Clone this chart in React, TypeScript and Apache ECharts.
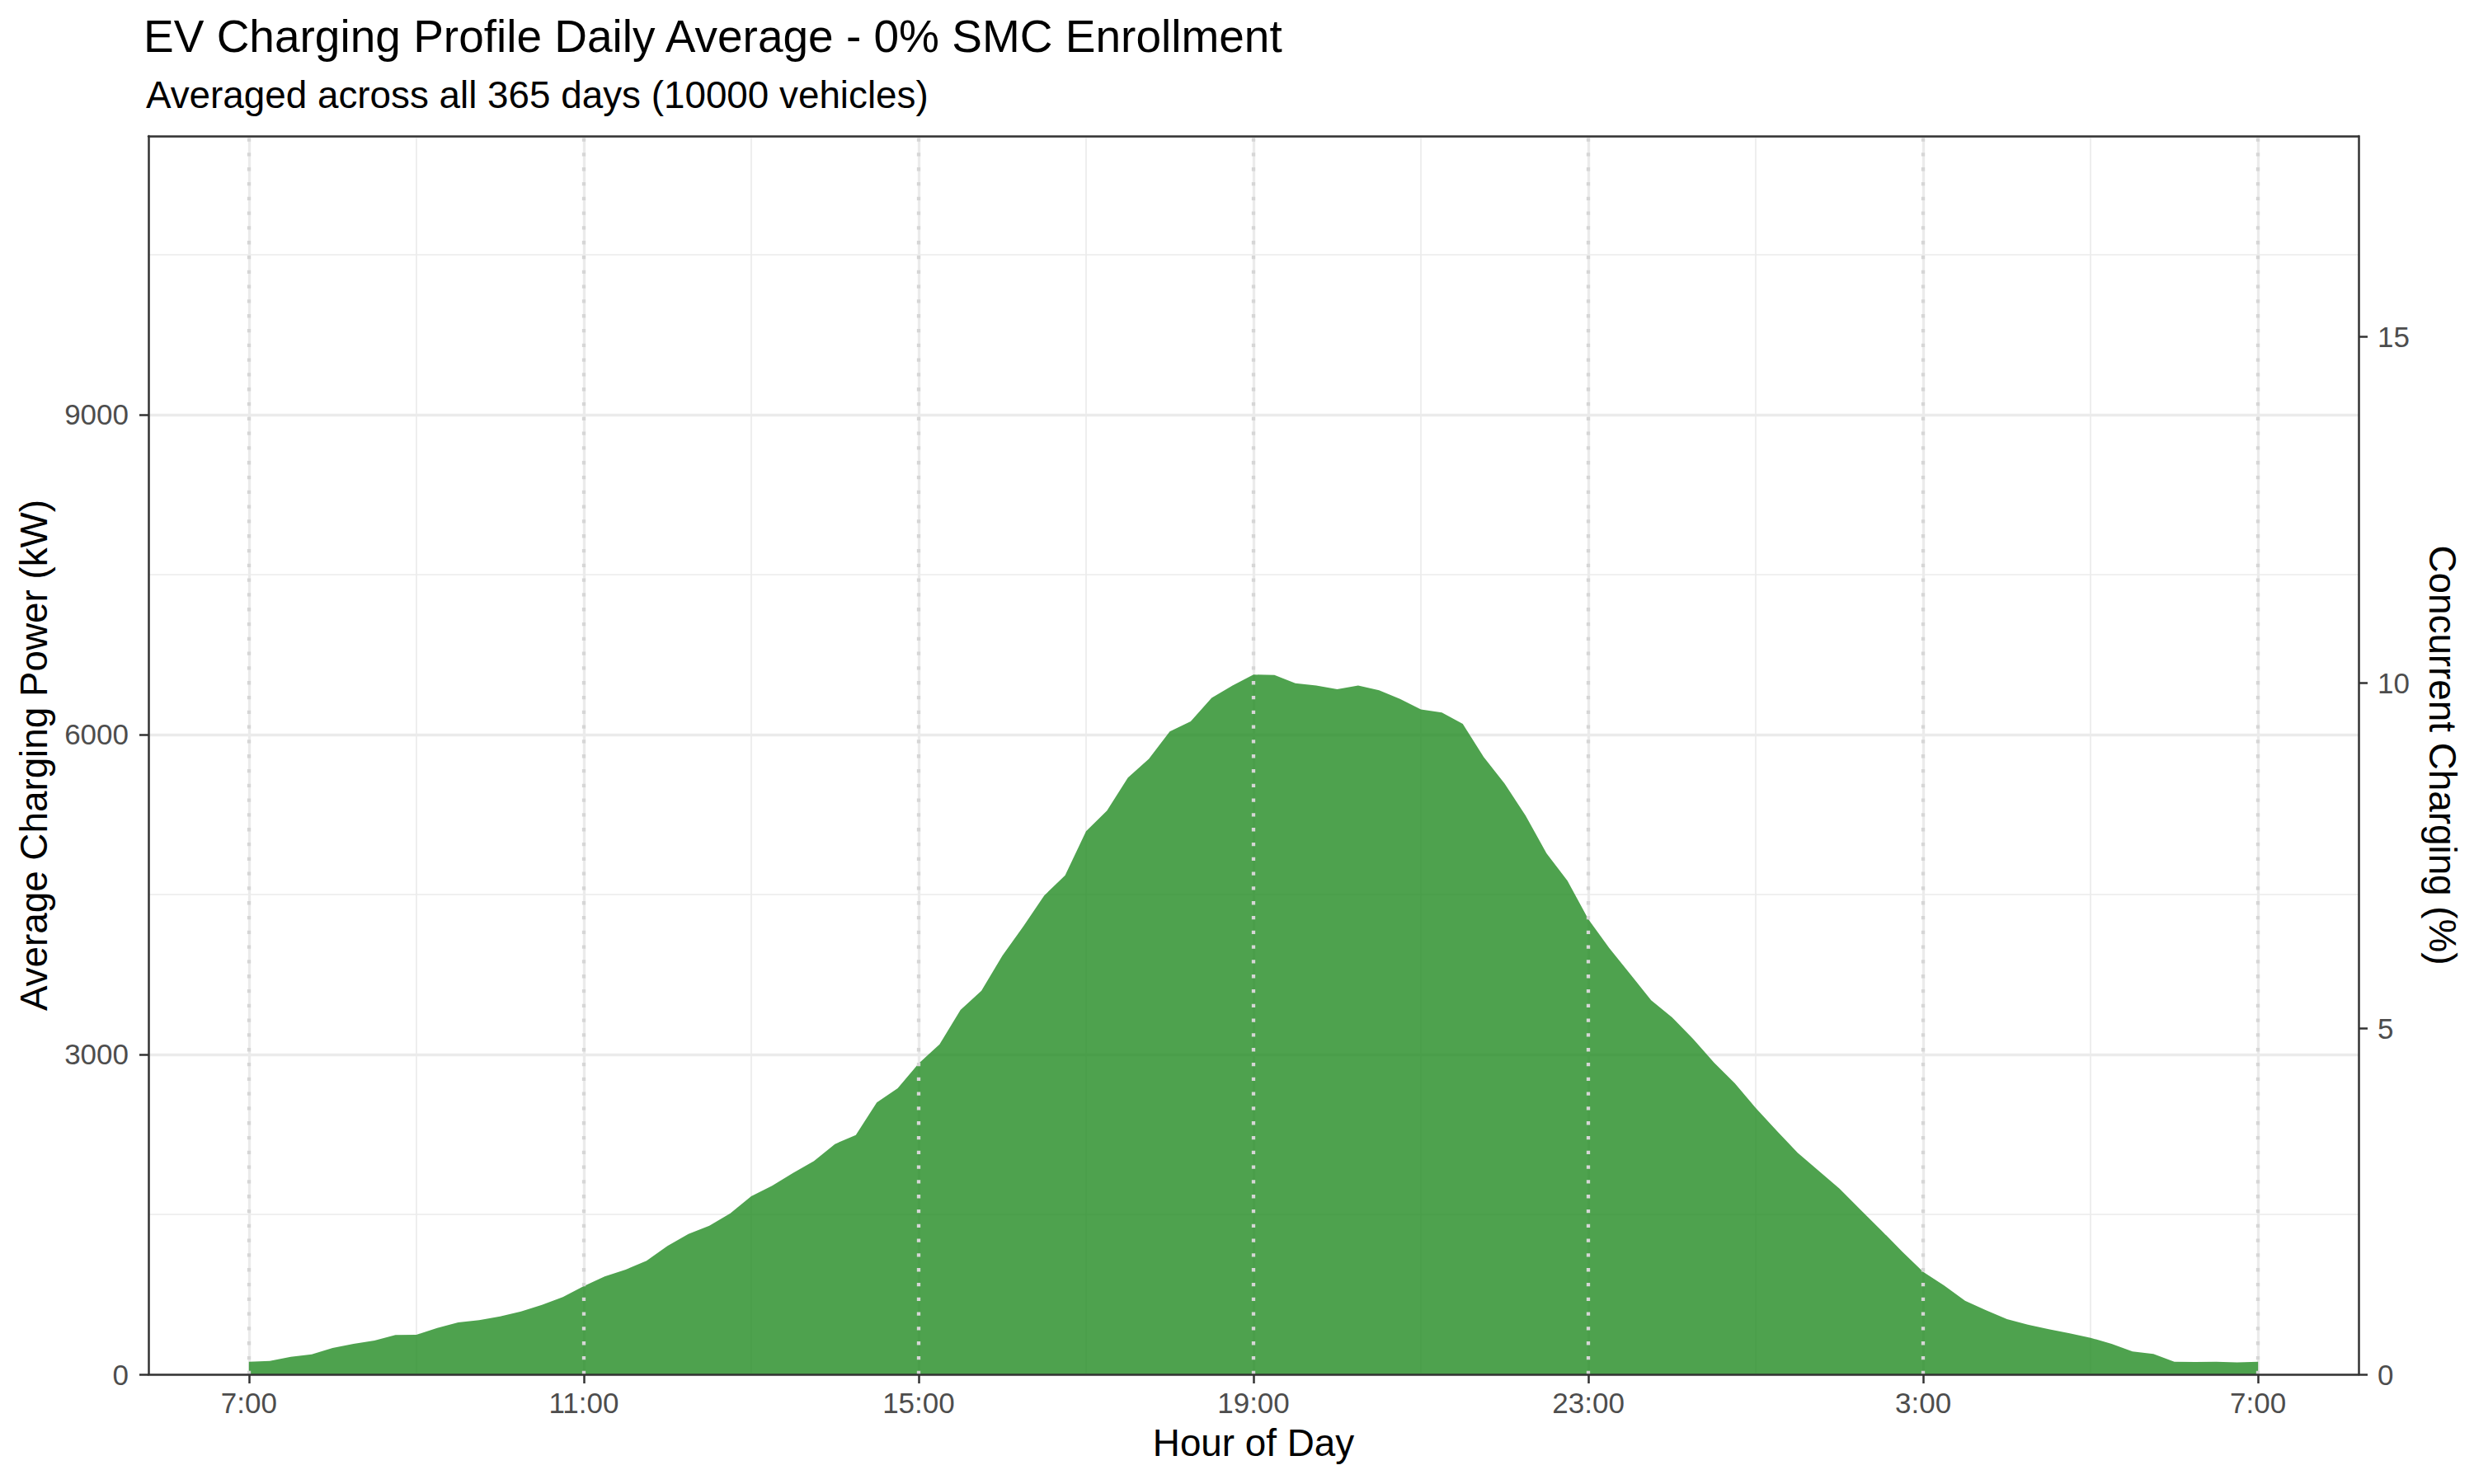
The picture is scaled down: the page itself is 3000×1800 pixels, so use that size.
import React, { useEffect, useRef } from "react";
import * as echarts from "echarts";

// ---- Data ----
const TITLE = "EV Charging Profile Daily Average - 0% SMC Enrollment";
const SUBTITLE = "Averaged across all 365 days (10000 vehicles)";
const X_TITLE = "Hour of Day";
const Y_TITLE = "Average Charging Power (kW)";
const Y2_TITLE = "Concurrent Charging (%)";

const START_HOUR = 7; // first sample at 7:00
const STEP_MINUTES = 15; // one sample every 15 minutes

// Average charging power (kW), 7:00 through 7:00 next day, every 15 minutes
const POWER_KW = [
  118, 126, 165, 188, 247, 286, 317, 369,
  371, 435, 487, 508, 544, 590, 652, 724,
  827, 918, 982, 1065, 1205, 1317, 1394, 1510,
  1670, 1768, 1889, 2000, 2160, 2245, 2549, 2683,
  2915, 3095, 3418, 3598, 3926, 4200, 4490, 4680,
  5093, 5287, 5596, 5771, 6029, 6124, 6343, 6459,
  6562, 6559, 6482, 6459, 6426, 6459, 6415, 6335,
  6235, 6207, 6100, 5789, 5539, 5240, 4887, 4629,
  4268, 3997, 3753, 3508, 3348, 3147, 2925, 2729,
  2497, 2284, 2078, 1910, 1742, 1544, 1350, 1150,
  961, 833, 691, 601, 518, 466, 423, 384,
  343, 286, 214, 191, 118, 116, 118, 113,
  118,
];

const X_MIN = 5.8;
const X_MAX = 32.2;
const MAJOR_HOURS = [7, 11, 15, 19, 23, 27, 31];
const MAJOR_LABELS = ["7:00", "11:00", "15:00", "19:00", "23:00", "3:00", "7:00"];
const MINOR_HOURS = [9, 13, 17, 21, 25, 29];

const KW_MAX = 11613;
const KW_TICKS = [0, 3000, 6000, 9000];
const KW_PER_PCT = 648.6;
const PCT_TICKS = [0, 5, 10, 15];

const FONT = "'Liberation Sans', Arial, Helvetica, sans-serif";
const AXIS_DARK = "#333333";
const LABEL_GREY = "#4D4D4D";
const GRID_GREY = "#EBEBEB";

export default function App() {
  const ref = useRef<HTMLDivElement>(null);

  useEffect(() => {
    if (!ref.current) return;
    const chart = echarts.init(ref.current, undefined, { renderer: "svg" });

    const seriesData = POWER_KW.map((v, i) => [
      START_HOUR + (i * STEP_MINUTES) / 60,
      v,
    ]);

    const axisLabelStyle = {
      fontFamily: FONT,
      fontSize: 35,
      color: LABEL_GREY,
    };

    const option: any = {
      animation: false,
      backgroundColor: "#ffffff",
      textStyle: { fontFamily: FONT },
      title: [
        {
          text: TITLE,
          left: 174,
          top: 16,
          padding: 0,
          textStyle: { fontFamily: FONT, fontSize: 55, fontWeight: "normal", color: "#000000" },
        },
        {
          text: SUBTITLE,
          left: 177,
          top: 92,
          padding: 0,
          textStyle: { fontFamily: FONT, fontSize: 45.8, fontWeight: "normal", color: "#000000" },
        },
      ],
      grid: {
        left: 180,
        right: 140,
        top: 165,
        bottom: 133,
        containLabel: false,
        outerBoundsMode: "none",
      },
      xAxis: [
        {
          type: "value",
          min: X_MIN,
          max: X_MAX,
          position: "bottom",
          z: 10,
          name: X_TITLE,
          nameLocation: "middle",
          nameGap: 60,
          nameTextStyle: { fontFamily: FONT, fontSize: 45.8, color: "#000000" },
          axisLine: { show: true, onZero: false, lineStyle: { color: AXIS_DARK, width: 2.5 } },
          axisTick: {
            show: true,
            customValues: MAJOR_HOURS,
            length: 11,
            lineStyle: { color: AXIS_DARK, width: 2.5 },
          },
          axisLabel: {
            ...axisLabelStyle,
            customValues: MAJOR_HOURS,
            margin: 17,
            formatter: (v: number) => {
              const idx = MAJOR_HOURS.findIndex((h) => Math.abs(h - v) < 1e-6);
              return idx >= 0 ? MAJOR_LABELS[idx] : "";
            },
          },
          splitLine: { show: false },
        },
        {
          type: "value",
          min: X_MIN,
          max: X_MAX,
          position: "top",
          z: 10,
          axisLine: { show: true, onZero: false, lineStyle: { color: AXIS_DARK, width: 2.5 } },
          axisTick: { show: false },
          axisLabel: { show: false },
          splitLine: { show: false },
        },
      ],
      yAxis: [
        {
          type: "value",
          min: 0,
          max: KW_MAX,
          interval: 3000,
          position: "left",
          z: 10,
          name: Y_TITLE,
          nameLocation: "middle",
          nameGap: 116,
          nameTextStyle: { fontFamily: FONT, fontSize: 45.8, color: "#000000" },
          axisLine: { show: true, onZero: false, lineStyle: { color: AXIS_DARK, width: 2.5 } },
          axisTick: {
            show: true,
            customValues: KW_TICKS,
            length: 11,
            lineStyle: { color: AXIS_DARK, width: 2.5 },
          },
          axisLabel: {
            ...axisLabelStyle,
            customValues: KW_TICKS,
            margin: 24,
            formatter: (v: number) => String(Math.round(v)),
          },
          splitLine: { show: false },
        },
        {
          type: "value",
          min: 0,
          max: KW_MAX / KW_PER_PCT,
          interval: 5,
          position: "right",
          z: 10,
          name: Y2_TITLE,
          nameLocation: "middle",
          nameRotate: -90,
          nameGap: 78,
          nameTextStyle: { fontFamily: FONT, fontSize: 45.8, color: "#000000" },
          axisLine: { show: true, onZero: false, lineStyle: { color: AXIS_DARK, width: 2.5 } },
          axisTick: {
            show: true,
            customValues: PCT_TICKS,
            length: 11,
            lineStyle: { color: AXIS_DARK, width: 2.5 },
          },
          axisLabel: {
            ...axisLabelStyle,
            customValues: PCT_TICKS,
            margin: 23,
            formatter: (v: number) => String(Math.round(v)),
          },
          splitLine: { show: false },
        },
        {
          type: "value",
          min: 0,
          max: KW_MAX,
          interval: 1500,
          position: "left",
          z: 0,
          axisLine: { show: false },
          axisTick: { show: false },
          axisLabel: { show: false },
          splitLine: { show: true, lineStyle: { color: GRID_GREY, width: 1.7 } },
        },
        {
          type: "value",
          min: 0,
          max: KW_MAX,
          interval: 3000,
          position: "left",
          z: 0,
          axisLine: { show: false },
          axisTick: { show: false },
          axisLabel: { show: false },
          splitLine: { show: true, lineStyle: { color: GRID_GREY, width: 3.3 } },
        },
      ],
      series: [
        {
          // helper: vertical panel grid lines (below the area)
          type: "line",
          xAxisIndex: 0,
          yAxisIndex: 0,
          data: seriesData,
          showSymbol: false,
          silent: true,
          lineStyle: { opacity: 0, width: 0 },
          z: 1,
          markLine: {
            z: 1,
            silent: true,
            symbol: ["none", "none"],
            label: { show: false },
            emphasis: { disabled: true },
            data: [
              ...MINOR_HOURS.map((h) => ({
                xAxis: h,
                lineStyle: { color: GRID_GREY, width: 1.7, type: "solid" },
              })),
              ...MAJOR_HOURS.map((h) => ({
                xAxis: h,
                lineStyle: { color: GRID_GREY, width: 3.3, type: "solid" },
              })),
            ],
          },
        },
        {
          type: "line",
          xAxisIndex: 0,
          yAxisIndex: 0,
          data: seriesData,
          showSymbol: false,
          symbol: "none",
          silent: true,
          z: 2,
          lineStyle: { width: 0, opacity: 0 },
          areaStyle: { color: "rgba(34,139,34,0.8)", opacity: 1, origin: "start" },
          markLine: {
            z: 5,
            silent: true,
            symbol: ["none", "none"],
            label: { show: false },
            emphasis: { disabled: true },
            lineStyle: { color: "#D6D6D6", width: 4.3, type: [4.3, 13.5], cap: "butt" },
            data: MAJOR_HOURS.map((h) => ({ xAxis: h })),
          },
        },
      ],
    };

    chart.setOption(option);
    return () => {
      chart.dispose();
    };
  }, []);

  return (
    <div
      ref={ref}
      style={{
        position: "absolute",
        left: 0,
        top: 0,
        width: 3000,
        height: 1800,
        background: "#ffffff",
      }}
    />
  );
}
